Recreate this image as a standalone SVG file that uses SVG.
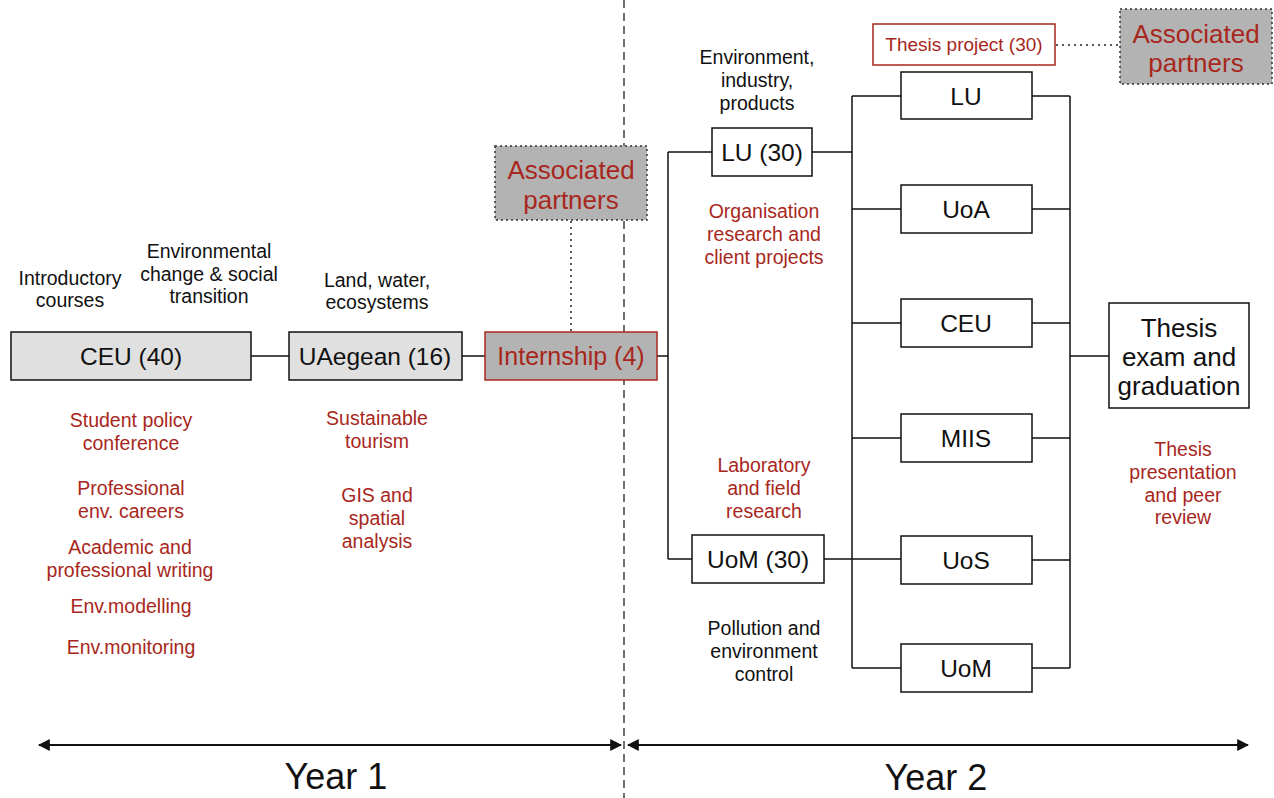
<svg xmlns="http://www.w3.org/2000/svg" width="1274" height="798" viewBox="0 0 1274 798">
<defs>
<style>
text{font-family:"Liberation Sans",Arial,sans-serif;text-anchor:middle;}
.lbl{font-size:19.5px;fill:#111;}
.red{font-size:19.5px;fill:#a8271c;}
.node{font-size:24.5px;fill:#111;}
.box{fill:#fff;stroke:#111;stroke-width:1.5;}
.grey{fill:#e0e0e0;stroke:#111;stroke-width:1.5;}
.ln{stroke:#111;stroke-width:1.5;fill:none;}
.dot{stroke:#222;stroke-width:1.5;stroke-dasharray:2,4;fill:none;}
.assoc{fill:#b3b3b3;stroke:#333;stroke-width:1.5;stroke-dasharray:2,3;}
</style>
<marker id="ah" viewBox="0 0 10 10" refX="9" refY="5" markerWidth="12" markerHeight="12" orient="auto-start-reverse" markerUnits="userSpaceOnUse">
<path d="M0,0 L10,5 L0,10 z" fill="#111"/>
</marker>
</defs>
<rect width="1274" height="798" fill="#fff"/>

<g id="connectors">
<line x1="624" y1="0" x2="624" y2="798" stroke="#111" stroke-width="1.2" stroke-dasharray="8,5"/>
<path class="ln" d="M251,356 H289 M462,356 H485 M657,356 H668 M668,152 V559 M668,152 H712 M668,559 H692"/>
<path class="ln" d="M812,152 H852 M824,559 H901 M852,96 V668"/>
<path class="ln" d="M852,96 H901 M852,209 H901 M852,323 H901 M852,438 H901 M852,668 H901"/>
<path class="ln" d="M1070,96 V668 M1032,96 H1070 M1032,209 H1070 M1032,323 H1070 M1032,438 H1070 M1032,560 H1070 M1032,668 H1070 M1070,356 H1109"/>
<line class="dot" x1="571" y1="221" x2="571" y2="331"/>
<line class="dot" x1="1056" y1="45" x2="1120" y2="45"/>
<line x1="39" y1="745" x2="621" y2="745" stroke="#111" stroke-width="2.2" marker-start="url(#ah)" marker-end="url(#ah)"/>
<line x1="628" y1="745" x2="1248" y2="745" stroke="#111" stroke-width="2.2" marker-start="url(#ah)" marker-end="url(#ah)"/>
</g>

<g id="ceu40"><rect class="grey" x="11" y="332" width="240" height="48"/><text class="node" x="131" y="365">CEU (40)</text></g>
<g id="uaegean"><rect class="grey" x="289" y="332" width="173" height="48"/><text class="node" x="375" y="365">UAegean (16)</text></g>
<g id="internship"><rect x="485" y="332" width="172" height="48" fill="#b3b3b3" stroke="#a8271c" stroke-width="1.5"/><text class="node" x="571" y="365" style="fill:#a8271c;font-size:25px">Internship (4)</text></g>
<g id="assoc1"><rect class="assoc" x="495" y="146" width="152" height="74"/><text class="node" x="571" y="179" style="fill:#a8271c;font-size:26px">Associated</text><text class="node" x="571" y="209" style="fill:#a8271c;font-size:26px">partners</text></g>
<g id="assoc2"><rect class="assoc" x="1120" y="9" width="152" height="75"/><text class="node" x="1196" y="43" style="fill:#a8271c;font-size:26px">Associated</text><text class="node" x="1196" y="72" style="fill:#a8271c;font-size:26px">partners</text></g>
<g id="thesisproject"><rect x="873" y="24" width="182" height="41" fill="#fff" stroke="#a8271c" stroke-width="1.5"/><text class="red" x="964" y="51" style="font-size:19px">Thesis project (30)</text></g>
<g id="lu30"><rect class="box" x="712" y="128" width="100" height="48"/><text class="node" x="762" y="161">LU (30)</text></g>
<g id="uom30"><rect class="box" x="692" y="535" width="132" height="48"/><text class="node" x="758" y="568">UoM (30)</text></g>
<g id="lu"><rect class="box" x="901" y="72" width="131" height="47"/><text class="node" x="966" y="105">LU</text></g>
<g id="uoa"><rect class="box" x="901" y="185" width="131" height="48"/><text class="node" x="966" y="218">UoA</text></g>
<g id="ceu"><rect class="box" x="901" y="299" width="131" height="48"/><text class="node" x="966" y="332">CEU</text></g>
<g id="miis"><rect class="box" x="901" y="414" width="131" height="48"/><text class="node" x="966" y="447">MIIS</text></g>
<g id="uos"><rect class="box" x="901" y="536" width="131" height="48"/><text class="node" x="966" y="569">UoS</text></g>
<g id="uom"><rect class="box" x="901" y="644" width="131" height="48"/><text class="node" x="966" y="677">UoM</text></g>
<g id="thesisexam"><rect class="box" x="1109" y="303" width="140" height="105"/><text class="node" x="1179" y="337" style="font-size:26px">Thesis</text><text class="node" x="1179" y="366" style="font-size:26px">exam and</text><text class="node" x="1179" y="395" style="font-size:26px">graduation</text></g>

<g id="labels">
<text class="lbl" x="70" y="285">Introductory</text><text class="lbl" x="70" y="307">courses</text>
<text class="lbl" x="209" y="258">Environmental</text><text class="lbl" x="209" y="281">change &amp; social</text><text class="lbl" x="209" y="303">transition</text>
<text class="lbl" x="377" y="287">Land, water,</text><text class="lbl" x="377" y="309">ecosystems</text>
<text class="lbl" x="757" y="64">Environment,</text><text class="lbl" x="757" y="87">industry,</text><text class="lbl" x="757" y="110">products</text>
<text class="lbl" x="764" y="635">Pollution and</text><text class="lbl" x="764" y="658">environment</text><text class="lbl" x="764" y="681">control</text>
<text class="red" x="764" y="218">Organisation</text><text class="red" x="764" y="241">research and</text><text class="red" x="764" y="264">client projects</text>
<text class="red" x="764" y="472">Laboratory</text><text class="red" x="764" y="495">and field</text><text class="red" x="764" y="518">research</text>
<text class="red" x="131" y="427">Student policy</text><text class="red" x="131" y="450">conference</text>
<text class="red" x="131" y="495">Professional</text><text class="red" x="131" y="518">env. careers</text>
<text class="red" x="130" y="554">Academic and</text><text class="red" x="130" y="577">professional writing</text>
<text class="red" x="131" y="613">Env.modelling</text>
<text class="red" x="131" y="654">Env.monitoring</text>
<text class="red" x="377" y="425">Sustainable</text><text class="red" x="377" y="448">tourism</text>
<text class="red" x="377" y="502">GIS and</text><text class="red" x="377" y="525">spatial</text><text class="red" x="377" y="548">analysis</text>
<text class="red" x="1183" y="456">Thesis</text><text class="red" x="1183" y="479">presentation</text><text class="red" x="1183" y="502">and peer</text><text class="red" x="1183" y="524">review</text>
<text x="336" y="789" style="font-size:36px;fill:#111">Year 1</text>
<text x="936" y="790" style="font-size:36px;fill:#111">Year 2</text>
</g>
</svg>
